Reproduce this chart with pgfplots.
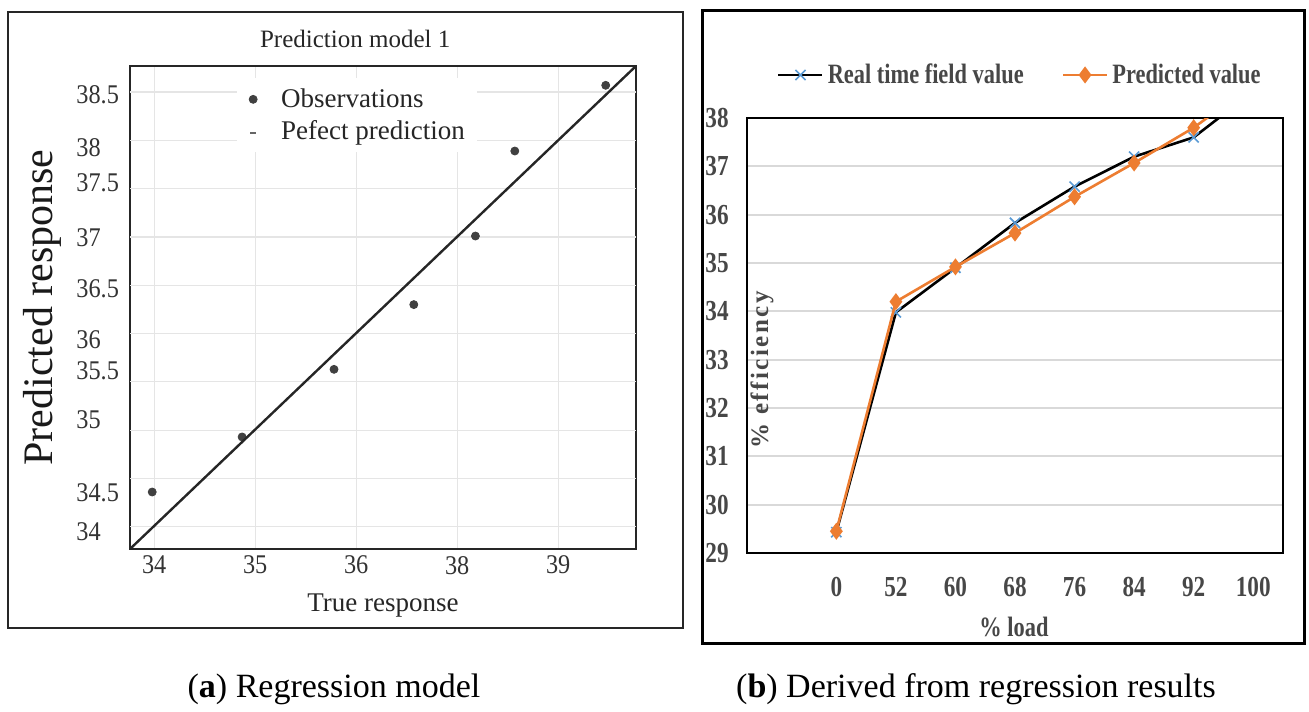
\documentclass[border=0pt]{standalone}
\usepackage{fontspec}
\setmainfont{Liberation Serif}
\newfontfamily\lfont[FakeStretch=0.9]{Liberation Serif}
\newfontfamily\rfont[FakeStretch=0.8]{Liberation Serif}
\newfontfamily\yfont[LetterSpace=10]{Liberation Serif}
\usepackage{pgfplots}
\pgfplotsset{compat=1.18}
\definecolor{xblue}{HTML}{5B9BD5}
\definecolor{porange}{HTML}{ED7D31}
\definecolor{gridgray}{HTML}{D9D9D9}

\begin{document}
\begin{tikzpicture}
\useasboundingbox (0,0) rectangle (654.5pt,355.5pt);

% frames around the two panels
\draw[line width=1pt, black!85] (4pt,41.5pt) rectangle (341.5pt,349.5pt);
\draw[line width=1.5pt, black] (351pt,34pt) rectangle (652pt,350pt);

% (a) regression model
\begin{axis}[
  at={(65pt,81pt)}, anchor=south west, scale only axis,
  width=253pt, height=241.5pt,
  xmin=33.76, xmax=38.77, ymin=33.77, ymax=38.77,
  /pgf/number format/assume math mode=true,
  axis line style={line width=1.1pt, black!85},
  tick style={draw=none},
  xtick={34,35,36,37,38}, xticklabels={34,35,36,38,39},
  ytick={33.95,34.35,35.11,35.62,35.94,36.46,36.99,37.56,37.92,38.47},
  yticklabels={34,34.5,35,35.5,36,36.5,37,37.5,38,38.5},
  extra y ticks={34,34.5,35,35.5,36,36.5,37,37.5,38,38.5},
  extra y tick labels={},
  extra y tick style={ymajorgrids=true},
  xmajorgrids,
  grid style={black!10, line width=0.6pt},
  tick label style={font=\lfont\fontsize{13.5}{15}\selectfont, text=black!80},
  yticklabel style={anchor=west, inner sep=0pt, xshift=-27pt},
  title={Prediction model 1},
  title style={font=\fontsize{12.5}{14}\selectfont, text=black!85,
    at={(axis description cs:0.445,1.031)}, anchor=center},
  xlabel={True response},
  xlabel style={font=\fontsize{13.5}{15}\selectfont, text=black!85,
    at={(axis description cs:0.5,-0.118)}, anchor=center},
  ylabel={Predicted response},
  ylabel style={font=\fontsize{21}{24}\selectfont, text=black!90,
    at={(axis description cs:-0.174,0.5)}, anchor=center},
  legend style={draw=none, fill=white, at={(0.211,0.975)}, anchor=north west,
    font=\fontsize{13.5}{15}\selectfont, text=black!85,
    row sep=1pt, inner xsep=4pt, inner ysep=3pt},
  legend cell align=left,
  clip marker paths=true,
]
\addplot[only marks, mark=*, mark size=2pt, color=black!75,
  legend image code/.code={\path[draw=none, fill=none] (0pt,0pt) -- (16pt,0pt);
    \draw[mark repeat=1] plot coordinates {(4pt,0pt)};}] coordinates {
  (33.98,34.36) (34.87,34.93) (35.78,35.63) (36.57,36.30)
  (37.18,37.01) (37.57,37.89) (38.47,38.57)
};
\addlegendentry{Observations}
\addplot[black!85, line width=1.2pt,
  legend image code/.code={\path[draw=none, fill=none] (0pt,0pt) -- (16pt,0pt);
    \draw[black!60, line width=1.2pt] (2.5pt,-1pt) -- (5.5pt,-1pt);}]
  coordinates {(33.76,33.77) (38.77,38.77)};
\addlegendentry{Pefect prediction}
\end{axis}

% (b) derived from regression results
\begin{axis}[
  at={(373.5pt,79pt)}, anchor=south west, scale only axis,
  width=268pt, height=217.5pt,
  xmin=-1.5, xmax=7.5, ymin=29, ymax=38,
  /pgf/number format/assume math mode=true,
  axis line style={line width=0.8pt, black},
  tick style={draw=none},
  xtick={0,1,2,3,4,5,6,7}, xticklabels={0,52,60,68,76,84,92,100},
  ytick={29,30,31,32,33,34,35,36,37,38},
  ymajorgrids,
  grid style={gridgray, line width=1pt},
  tick label style={font=\rfont\bfseries\fontsize{14.5}{16}\selectfont, text=black!72},
  yticklabel style={inner sep=0pt, xshift=-9pt},
  xticklabel style={inner sep=0pt, yshift=-12pt},
  xlabel={\% load},
  xlabel style={font=\rfont\bfseries\fontsize{14}{16}\selectfont, text=black!72,
    at={(axis description cs:0.498,-0.170)}, anchor=center},
  ylabel={\% efficiency},
  ylabel style={font=\yfont\bfseries\fontsize{12.5}{14}\selectfont, text=black!72,
    at={(axis description cs:0.028,0.421)}, anchor=center},
  legend style={draw=none, fill=none, at={(0.511,1.099)}, anchor=center,
    font=\rfont\bfseries\fontsize{14}{16}\selectfont, text=black!72,
    /tikz/every even column/.append style={column sep=17pt}},
  legend columns=2,
  legend image code/.code={
    \draw[mark repeat=2, mark phase=2] plot coordinates {(0pt,0pt) (11pt,0pt) (22pt,0pt)};},
  clip marker paths=true,
]
\addplot[black, line width=1.3pt, mark=x, mark size=3.6pt,
  mark options={draw=xblue, line width=0.8pt}] coordinates {
  (0,29.43) (1,33.98) (2,34.90) (3,35.83) (4,36.58) (5,37.20) (6,37.60) (7,38.55)
};
\addlegendentry{Real time field value}
\addplot[porange, line width=1.3pt, mark=diamond*, mark size=3.2pt,
  mark options={fill=porange, draw=porange}] coordinates {
  (0,29.45) (1,34.20) (2,34.92) (3,35.62) (4,36.37) (5,37.07) (6,37.80) (7,38.70)
};
\addlegendentry{Predicted value}
\end{axis}

% captions
\node[anchor=base, font=\fontsize{17}{20}\selectfont] at (167pt,7pt) {(\textbf{a}) Regression model};
\node[anchor=base, font=\fontsize{17}{20}\selectfont] at (488pt,7pt) {(\textbf{b}) Derived from regression results};
\end{tikzpicture}
\end{document}
